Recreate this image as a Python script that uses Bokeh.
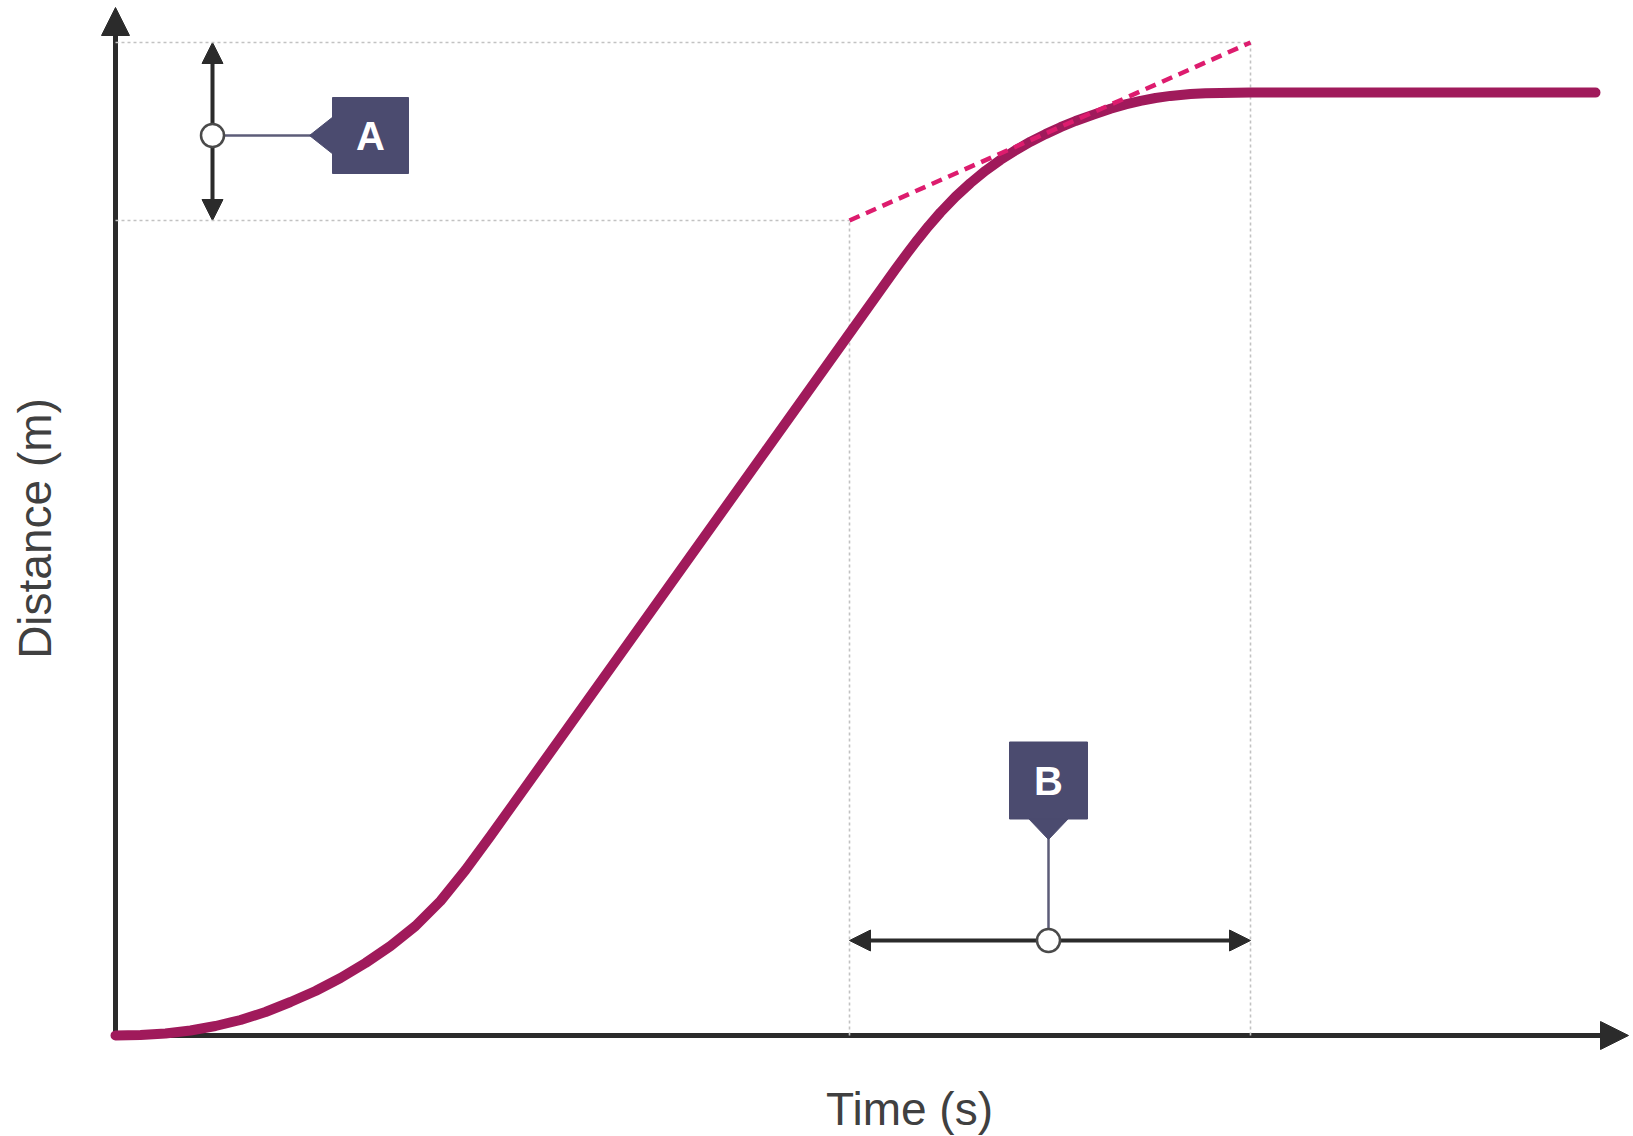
import math
from bokeh.plotting import figure
from bokeh.models import Range1d, Arrow, NormalHead, Label
from bokeh.embed import file_html
from bokeh.resources import INLINE

# ---------------- data ----------------
# distance-time curve: time in s, distance in m
time_s = [0.00, 0.25, 0.50, 0.75, 1.00, 1.25, 1.50, 1.75, 2.00, 2.25, 2.50,
          2.75, 3.00, 3.25, 3.50, 3.75, 4.50, 5.50, 6.50, 7.34, 7.65, 7.80,
          7.92, 8.02, 8.13, 8.25, 8.40, 8.55, 8.70, 8.85, 9.00, 9.15, 9.30,
          9.45, 9.60, 9.78, 9.95, 10.10, 10.25, 10.40, 10.55, 10.75, 10.90,
          11.05, 11.35, 14.80]
distance_m = [0.000, 0.005, 0.020, 0.050, 0.095, 0.155, 0.235, 0.335, 0.445,
              0.575, 0.725, 0.895, 1.095, 1.345, 1.655, 1.995, 3.044, 4.444,
              5.844, 7.020, 7.454, 7.663, 7.826, 7.957, 8.093, 8.231, 8.387,
              8.525, 8.648, 8.756, 8.852, 8.938, 9.014, 9.083, 9.145, 9.209,
              9.267, 9.311, 9.347, 9.375, 9.396, 9.414, 9.422, 9.426, 9.429,
              9.429]

# tangent (dashed) line end points
tangent_t = [7.34, 11.35]
tangent_d = [8.15, 9.93]

# interval B (time) and interval A (distance)
interval_b_t = [7.34, 11.35]
interval_a_d = [8.15, 9.93]
a_marker_t = 0.97       # time at which the A bracket is drawn
a_marker_d = 9.00       # distance of the A marker circle
b_marker_t = 9.33       # time of the B marker circle
b_marker_d = 0.95       # distance at which the B bracket is drawn

labels = ["A", "B"]
x_title = "Time (s)"
y_title = "Distance (m)"

# ---------------- scales / layout ----------------
W, H = 1633, 1136
PX_PER_S = 100.0
PX_PER_M = 100.0
ORIGIN_PX = (115, 1035)   # screen position of (0, 0)

x0 = -ORIGIN_PX[0] / PX_PER_S
x1 = (W - ORIGIN_PX[0]) / PX_PER_S
y0 = -(H - ORIGIN_PX[1]) / PX_PER_M
y1 = ORIGIN_PX[1] / PX_PER_M

def dx(px):
    return px / PX_PER_S

def dy(px):
    return px / PX_PER_M

p = figure(width=W, height=H, x_range=Range1d(x0, x1), y_range=Range1d(y0, y1),
           output_backend="svg", toolbar_location=None, title=None,
           x_axis_location=None, y_axis_location=None, min_border=0)
p.min_border_left = p.min_border_right = p.min_border_top = p.min_border_bottom = 0
p.xgrid.visible = False
p.ygrid.visible = False
p.outline_line_color = None
p.background_fill_color = "white"
p.border_fill_color = "white"

AX = "#2b2b2b"
GUIDE = "#c2c2c2"
CURVE = "#a01a5b"
TANGENT = "#dd1c6e"
BOX = "#4b4b6f"
CONNECT = "#5c5c78"
TEXT = "#404040"

def head(size):
    return NormalHead(size=size, fill_color=AX, line_color=AX, line_width=1)

# ---------------- axes with arrow heads ----------------
p.add_layout(Arrow(end=head(28), x_start=-dx(3), y_start=0,
                   x_end=dx(1628 - ORIGIN_PX[0]), y_end=0,
                   line_color=AX, line_width=5, level="underlay"))
p.add_layout(Arrow(end=head(28), x_start=0, y_start=-dy(3),
                   x_end=0, y_end=dy(ORIGIN_PX[1] - 7),
                   line_color=AX, line_width=5, level="underlay"))

# ---------------- guide lines (dotted) ----------------
for xs, ys in [([0, tangent_t[1]], [tangent_d[1], tangent_d[1]]),
               ([0, tangent_t[0]], [tangent_d[0], tangent_d[0]]),
               ([interval_b_t[0], interval_b_t[0]], [0, tangent_d[0]]),
               ([interval_b_t[1], interval_b_t[1]], [0, tangent_d[1]])]:
    p.line(xs, ys, line_color=GUIDE, line_width=1.6, line_dash="3 3")

# ---------------- curve & tangent ----------------
p.line(time_s, distance_m, line_color=CURVE, line_width=10,
       line_cap="round", line_join="round")
p.line(tangent_t, tangent_d, line_color=TANGENT, line_width=4.5,
       line_dash="11 7")

# ---------------- bracket A (distance interval) ----------------
p.add_layout(Arrow(start=head(21), end=head(21),
                   x_start=a_marker_t, y_start=interval_a_d[0],
                   x_end=a_marker_t, y_end=interval_a_d[1],
                   line_color=AX, line_width=4, level="underlay"))
a_box_x = a_marker_t + dx(158)
p.line([a_marker_t, a_marker_t + dx(100)], [a_marker_d, a_marker_d],
       line_color=CONNECT, line_width=2.5)
p.patch([a_marker_t + dx(97), a_marker_t + dx(121), a_marker_t + dx(121)],
        [a_marker_d, a_marker_d + dy(19), a_marker_d - dy(19)],
        fill_color=BOX, line_color=BOX)
p.rect([a_box_x], [a_marker_d], width=76, height=76, width_units="screen",
       height_units="screen", fill_color=BOX, line_color=BOX)
p.scatter([a_marker_t], [a_marker_d], marker="circle", size=23, fill_color="white",
          line_color="#4a4a4a", line_width=2.5)
p.add_layout(Label(x=a_box_x, y=a_marker_d, text=labels[0], text_align="center",
                   text_baseline="middle", text_color="white", text_font="Liberation Sans",
                   text_font_style="bold", text_font_size="40px"))

# ---------------- bracket B (time interval) ----------------
p.add_layout(Arrow(start=head(21), end=head(21),
                   x_start=interval_b_t[0], y_start=b_marker_d,
                   x_end=interval_b_t[1], y_end=b_marker_d,
                   line_color=AX, line_width=4, level="underlay"))
b_box_y = b_marker_d + dy(160)
p.line([b_marker_t, b_marker_t], [b_marker_d, b_marker_d + dy(104)],
       line_color=CONNECT, line_width=2.5)
p.patch([b_marker_t - dx(20), b_marker_t + dx(20), b_marker_t],
        [b_marker_d + dy(122), b_marker_d + dy(122), b_marker_d + dy(101)],
        fill_color=BOX, line_color=BOX)
p.rect([b_marker_t], [b_box_y], width=78, height=77, width_units="screen",
       height_units="screen", fill_color=BOX, line_color=BOX)
p.scatter([b_marker_t], [b_marker_d], marker="circle", size=23, fill_color="white",
          line_color="#4a4a4a", line_width=2.5)
p.add_layout(Label(x=b_marker_t, y=b_box_y, text=labels[1], text_align="center",
                   text_baseline="middle", text_color="white", text_font="Liberation Sans",
                   text_font_style="bold", text_font_size="40px"))

# ---------------- axis titles ----------------
p.add_layout(Label(x=dx(909 - ORIGIN_PX[0]), y=-dy(1108 - ORIGIN_PX[1]), text=x_title,
                   text_align="center", text_baseline="middle", text_color=TEXT,
                   text_font="Liberation Sans", text_font_size="46px"))
p.add_layout(Label(x=-dx(ORIGIN_PX[0] - 34), y=dy(ORIGIN_PX[1] - 528), text=y_title,
                   angle=math.pi / 2, text_align="center", text_baseline="middle",
                   text_color=TEXT, text_font="Liberation Sans", text_font_size="46px"))

open("out.html", "w").write(file_html(p, INLINE))
